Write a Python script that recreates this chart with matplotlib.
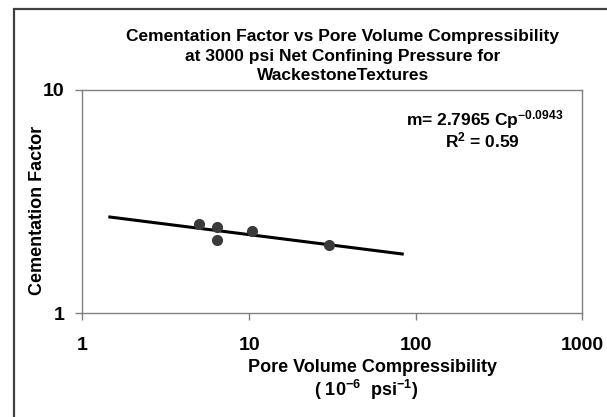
import numpy as np
import matplotlib
matplotlib.use("Agg")
import matplotlib.pyplot as plt
from matplotlib.patches import Rectangle

# data
cp = [5.0, 6.45, 6.45, 10.4, 30.0]
m_vals = [2.50, 2.44, 2.13, 2.34, 2.02]
coef = 2.7965
expo = -0.0943
trend_start = 1.46
trend_end = 83.0

plt.rcParams['font.family'] = ['Liberation Sans', 'DejaVu Sans']
plt.rcParams['font.weight'] = 'bold'
plt.rcParams['mathtext.fontset'] = 'custom'
plt.rcParams['mathtext.rm'] = 'Liberation Sans:bold'
plt.rcParams['mathtext.it'] = 'Liberation Sans:bold'
plt.rcParams['mathtext.bf'] = 'Liberation Sans:bold'
plt.rcParams['mathtext.default'] = 'rm'

fig = plt.figure(figsize=(6.07, 4.17), dpi=100)
ax = fig.add_axes([0.1359, 0.2487, 0.9593 - 0.1359, 0.7842 - 0.2487])

# trendline (power fit)
xt = np.logspace(np.log10(trend_start), np.log10(trend_end), 50)
ax.plot(xt, coef * xt ** expo, color='black', lw=2.2, zorder=2)
ax.plot(cp, m_vals, 'o', color='#3a3a3a', ms=7, zorder=3)

ax.set_xscale('log')
ax.set_yscale('log')
ax.set_xlim(1, 1000)
ax.set_ylim(1, 10)
ax.set_xticks([1, 10, 100, 1000])
ax.set_xticklabels(['1', '10', '100', '1000'])
ax.set_yticks([1, 10])
ax.set_yticklabels(['1', '10'])
ax.minorticks_off()
ax.tick_params(axis='both', direction='out', length=5, width=1, color='#808080',
               labelsize=14)
ax.tick_params(axis='x', pad=12)
ax.tick_params(axis='y', pad=8)
for s in ax.spines.values():
    s.set_color('#808080')
    s.set_linewidth(1)

fig.text(343 / 607, 1 - 56 / 417, 'Cementation Factor vs Pore Volume Compressibility\n'
         'at 3000 psi Net Confining Pressure for\nWackestoneTextures',
         ha='center', va='center', fontsize=12.5, fontweight='bold', linespacing=1.38)

fig.text(372 / 607, 1 - 367 / 417, 'Pore Volume Compressibility',
         ha='center', va='center', fontsize=13, fontweight='bold')
fig.text(366 / 607, 1 - 390 / 417, r'( 10$^{-6}$  psi$^{-1}$)',
         ha='center', va='center', fontsize=13, fontweight='bold')
fig.text(38 / 607, 1 - 210 / 417, 'Cementation Factor', rotation=90,
         ha='center', va='center', fontsize=13, fontweight='bold')

fig.text(485 / 607, 1 - 120 / 417, r'm= 2.7965 Cp$^{-0.0943}$',
         ha='center', va='center', fontsize=12.5, fontweight='bold')
fig.text(482 / 607, 1 - 140 / 417, r'R$^{2}$ = 0.59',
         ha='center', va='center', fontsize=12.5, fontweight='bold')

# outer chart frame (cut off at right and bottom)
fig.patches.append(Rectangle((14 / 607, -0.05), 1.0, 1 - 9 / 417 + 0.05,
                             transform=fig.transFigure, fill=False,
                             edgecolor='#404040', lw=1.6))

fig.savefig('out.png', dpi=100)
